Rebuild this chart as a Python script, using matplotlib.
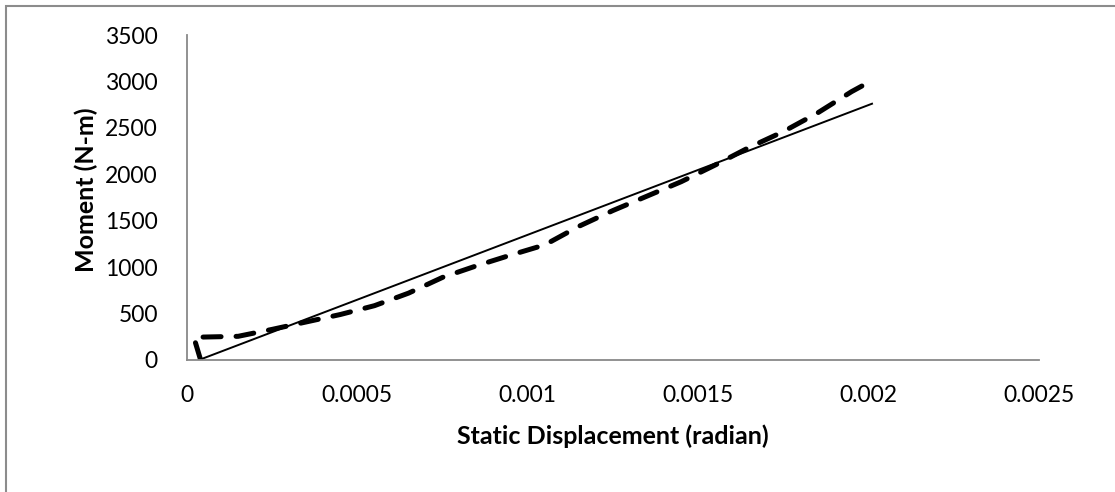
import matplotlib
matplotlib.use("Agg")
import matplotlib.pyplot as plt
from matplotlib.patches import Rectangle

# measured moment vs. static displacement
disp = [0.00004, 0.00002, 0.00015, 0.00025, 0.00035, 0.00045, 0.00055, 0.00065,
        0.00075, 0.00085, 0.00095, 0.00105, 0.00115, 0.00125, 0.00135, 0.00145,
        0.00155, 0.00165, 0.00175, 0.00185, 0.00195, 0.002]
moment = [0, 245, 255, 330, 410, 490, 585, 720, 890, 1015, 1130, 1240, 1440,
          1610, 1765, 1920, 2100, 2290, 2460, 2660, 2890, 2990]

# linear trend line
trend_x = [0.000035, 0.00201]
trend_y = [0, 2760]

xticks = [0, 0.0005, 0.001, 0.0015, 0.002, 0.0025]
xtick_labels = ["0", "0.0005", "0.001", "0.0015", "0.002", "0.0025"]
yticks = [0, 500, 1000, 1500, 2000, 2500, 3000, 3500]

plt.rcParams['font.family'] = ['Lato', 'DejaVu Sans']

W, H = 1115, 492
fig = plt.figure(figsize=(W / 100, H / 100), dpi=100)
ax = fig.add_axes([187 / W, 1 - 360 / H, (1039 - 187) / W, (360 - 35) / H])

ax.plot(disp, moment, color="black", lw=3.6, linestyle=(0, (3.6, 3.0)),
        dash_capstyle="round", solid_capstyle="round")
ax.plot(trend_x, trend_y, color="black", lw=1.4)

ax.set_xlim(0, 0.0025)
ax.set_ylim(0, 3500)
ax.set_xticks(xticks)
ax.set_xticklabels(xtick_labels)
ax.set_yticks(yticks)
ax.tick_params(length=0, labelsize=16.5, colors="black")
ax.tick_params(axis="x", pad=18)
ax.tick_params(axis="y", pad=21)

for side in ("top", "right"):
    ax.spines[side].set_visible(False)
for side in ("left", "bottom"):
    ax.spines[side].set_color("#898989")
    ax.spines[side].set_linewidth(1.3)

fig.text(613 / W, 1 - 436 / H, "Static Displacement (radian)", fontsize=18,
         fontweight="bold", ha="center", va="center")
fig.text(86 / W, 1 - 190 / H, "Moment (N-m)", rotation=90, fontsize=18,
         fontweight="bold", ha="center", va="center")

# chart border
fig.patches.append(Rectangle((6 / W, -0.1), 1.2, 1 - 6 / H + 0.1,
                             transform=fig.transFigure, fill=False,
                             edgecolor="#8c8c8c", lw=1.5))

fig.savefig("out.png", dpi=100)
